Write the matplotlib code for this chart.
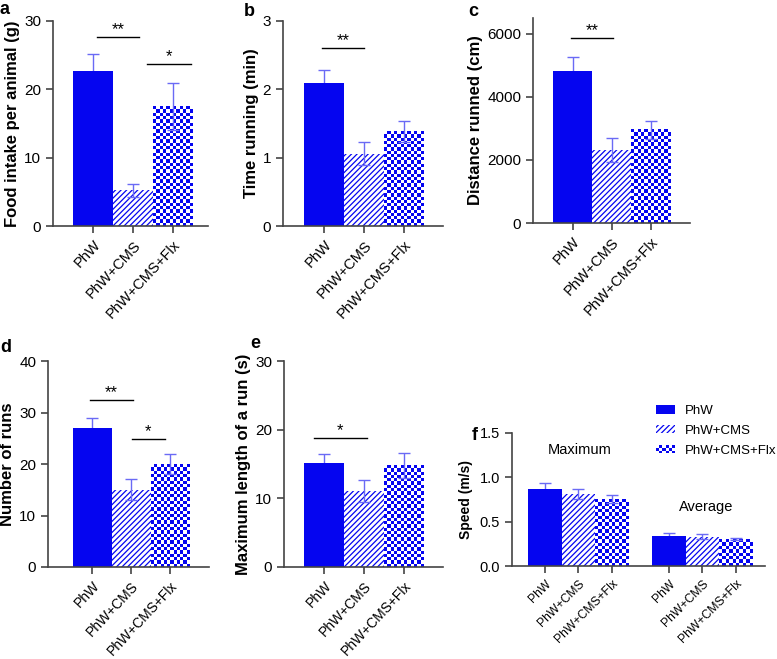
import numpy as np
import matplotlib
matplotlib.use('Agg')
import matplotlib.pyplot as plt
from matplotlib.colors import ListedColormap
from matplotlib.patches import Rectangle
from matplotlib.legend_handler import HandlerBase

plt.rcParams['font.family'] = ['Liberation Sans', 'DejaVu Sans']
plt.rcParams['hatch.linewidth'] = 0.9

# data
groups = ['PhW', 'PhW+CMS', 'PhW+CMS+Flx']

food_mean = [22.7, 5.2, 17.5]
food_err = [2.5, 1.0, 3.4]
time_mean = [2.1, 1.06, 1.38]
time_err = [0.19, 0.17, 0.15]
dist_mean = [4820, 2320, 2950]
dist_err = [450, 370, 300]
runs_mean = [27.0, 15.0, 20.0]
runs_err = [2.0, 2.0, 2.0]
maxlen_mean = [15.2, 11.0, 14.8]
maxlen_err = [1.3, 1.6, 1.8]
speed_max_mean = [0.87, 0.81, 0.755]
speed_max_err = [0.065, 0.057, 0.048]
speed_avg_mean = [0.343, 0.332, 0.302]
speed_avg_err = [0.027, 0.026, 0.011]

# significance bars: (x start, x end, y, stars)
sig_a = [(0.1, 1.15, 27.6, '**'), (1.35, 2.45, 23.7, '*')]
sig_b = [(-0.05, 1.0, 2.61, '**')]
sig_c = [(-0.05, 1.04, 5860, '**')]
sig_d = [(-0.05, 1.04, 32.4, '**'), (1.02, 1.87, 24.9, '*')]
sig_e = [(-0.25, 1.07, 18.8, '*')]

BLUE = '#0505f0'
ERR = '#6a6af5'
AX = '#444444'
W, H = 777, 659

fig = plt.figure(figsize=(W / 100, H / 100), dpi=100)


def make_ax(l, r, t, b):
    ax = fig.add_axes([l / W, 1 - b / H, (r - l) / W, (b - t) / H])
    for s in ['top', 'right']:
        ax.spines[s].set_visible(False)
    for s in ['left', 'bottom']:
        ax.spines[s].set_color(AX)
        ax.spines[s].set_linewidth(1.2)
    ax.tick_params(direction='out', length=5, width=1.2, color=AX, labelsize=11)
    return ax


def checker_bar(ax, x, h, width, cell=3.3):
    p0 = ax.transData.transform((x - width / 2, 0))
    p1 = ax.transData.transform((x + width / 2, h))
    nx = max(1, int(round((p1[0] - p0[0]) / cell)))
    ny = max(1, int(round((p1[1] - p0[1]) / cell)))
    grid = np.add.outer(np.arange(ny), np.arange(nx)) % 2
    ax.imshow(grid, extent=(x - width / 2, x + width / 2, 0, h), origin='lower',
              cmap=ListedColormap(['white', BLUE]), interpolation='nearest',
              aspect='auto', zorder=2)


def draw_bars(ax, xs, means, errs, xlim, ylim, width=1.0):
    ax.set_xlim(*xlim)
    ax.set_ylim(*ylim)
    ax.bar(xs[0], means[0], width, color=BLUE, zorder=2)
    ax.errorbar(xs[0], means[0], yerr=errs[0], fmt='none', ecolor=ERR,
                elinewidth=1, capsize=4, capthick=1, zorder=1)
    ax.bar(xs[1], means[1], width, facecolor='white', edgecolor=BLUE,
           linewidth=0, hatch='//////', zorder=2)
    checker_bar(ax, xs[2], means[2], width)
    ax.errorbar(xs[1:], means[1:], yerr=errs[1:], fmt='none', ecolor=ERR,
                elinewidth=1, capsize=4, capthick=1, zorder=3)
    ax.set_xlim(*xlim)
    ax.set_ylim(*ylim)


def panel(ax, means, errs, xlim, ylim, yticks, ylabel, sigs, xfs=10.5):
    xs = np.arange(3)
    draw_bars(ax, xs, means, errs, xlim, ylim)
    ax.set_yticks(yticks)
    ax.set_xticks(xs)
    ax.set_xticklabels(groups, rotation=47, ha='right', rotation_mode='anchor', fontsize=xfs)
    ax.set_ylabel(ylabel, fontsize=12, fontweight='bold', labelpad=3)
    for x0, x1, y, s in sigs:
        ax.plot([x0, x1], [y, y], color='black', lw=1, zorder=4, clip_on=False)
        ax.text((x0 + x1) / 2, y, s, ha='center', va='bottom', fontsize=12, zorder=4)


ax_a = make_ax(53, 208, 21, 226)
panel(ax_a, food_mean, food_err, (-1.0, 2.875), (0, 30), [0, 10, 20, 30],
      'Food intake per animal (g)', sig_a)

ax_b = make_ax(283, 443, 21, 226)
panel(ax_b, time_mean, time_err, (-1.03, 2.98), (0, 3), [0, 1, 2, 3],
      'Time running (min)', sig_b)

ax_c = make_ax(533, 690, 18, 223)
panel(ax_c, dist_mean, dist_err, (-1.01, 3.0), (0, 6500), [0, 2000, 4000, 6000],
      'Distance runned (cm)', sig_c)

ax_d = make_ax(48, 209, 361, 567)
panel(ax_d, runs_mean, runs_err, (-1.13, 3.0), (0, 40), [0, 10, 20, 30, 40],
      'Number of runs', sig_d, xfs=10)

ax_e = make_ax(284, 443, 361, 567)
panel(ax_e, maxlen_mean, maxlen_err, (-1.0, 2.98), (0, 30), [0, 10, 20, 30],
      'Maximum length of a run (s)', sig_e, xfs=10)

# panel f: grouped speed bars
ax_f = make_ax(512, 765, 433, 566)
xs_max = np.array([0.0, 1.0, 2.0])
xs_avg = xs_max + 3.7
flim = (-0.985, 6.57)
draw_bars(ax_f, xs_max, speed_max_mean, speed_max_err, flim, (0, 1.5))
draw_bars(ax_f, xs_avg, speed_avg_mean, speed_avg_err, flim, (0, 1.5))
ax_f.set_yticks([0.0, 0.5, 1.0, 1.5])
ax_f.set_yticklabels(['0.0', '0.5', '1.0', '1.5'])
ax_f.tick_params(axis='y', labelsize=10.5)
ax_f.set_xticks(np.concatenate([xs_max, xs_avg]))
ax_f.set_xticklabels(groups * 2, rotation=45, ha='right', rotation_mode='anchor', fontsize=8.7)
ax_f.set_ylabel('Speed (m/s)', fontsize=10, fontweight='bold', labelpad=5)
ax_f.text(1.04, 1.31, 'Maximum', ha='center', va='center', fontsize=10.5)
ax_f.text(4.8, 0.66, 'Average', ha='center', va='center', fontsize=10.5)


class CheckerHandler(HandlerBase):
    def create_artists(self, legend, orig_handle, xdescent, ydescent,
                       width, height, fontsize, trans):
        arts = []
        nx, ny = 6, 3
        cw, ch = width / nx, height / ny
        for i in range(nx):
            for j in range(ny):
                c = BLUE if (i + j) % 2 else 'white'
                arts.append(Rectangle((-xdescent + i * cw, -ydescent + j * ch), cw, ch,
                                      facecolor=c, edgecolor='none', transform=trans))
        return arts


h_solid = Rectangle((0, 0), 1, 1, facecolor=BLUE, edgecolor='none')
h_hatch = Rectangle((0, 0), 1, 1, facecolor='white', edgecolor=BLUE, linewidth=0, hatch='//////')
h_check = Rectangle((0, 0), 1, 1, facecolor='white')
ax_f.legend([h_solid, h_hatch, h_check], groups, handler_map={h_check: CheckerHandler()},
            loc='upper left', bbox_to_anchor=(656 / W, 1 - 405 / H),
            bbox_transform=fig.transFigure, frameon=False, fontsize=9.5,
            handlelength=1.45, handleheight=0.6, handletextpad=0.75,
            labelspacing=0.6, borderaxespad=0, borderpad=0)

# panel letters
for s, (x, y) in zip('abcdef', [(5, 10), (249, 11), (473, 11), (6, 348), (255, 344), (475, 436)]):
    fig.text(x / W, 1 - y / H, s, fontsize=13, fontweight='bold', ha='center', va='center')

fig.savefig('out.png', dpi=100)
